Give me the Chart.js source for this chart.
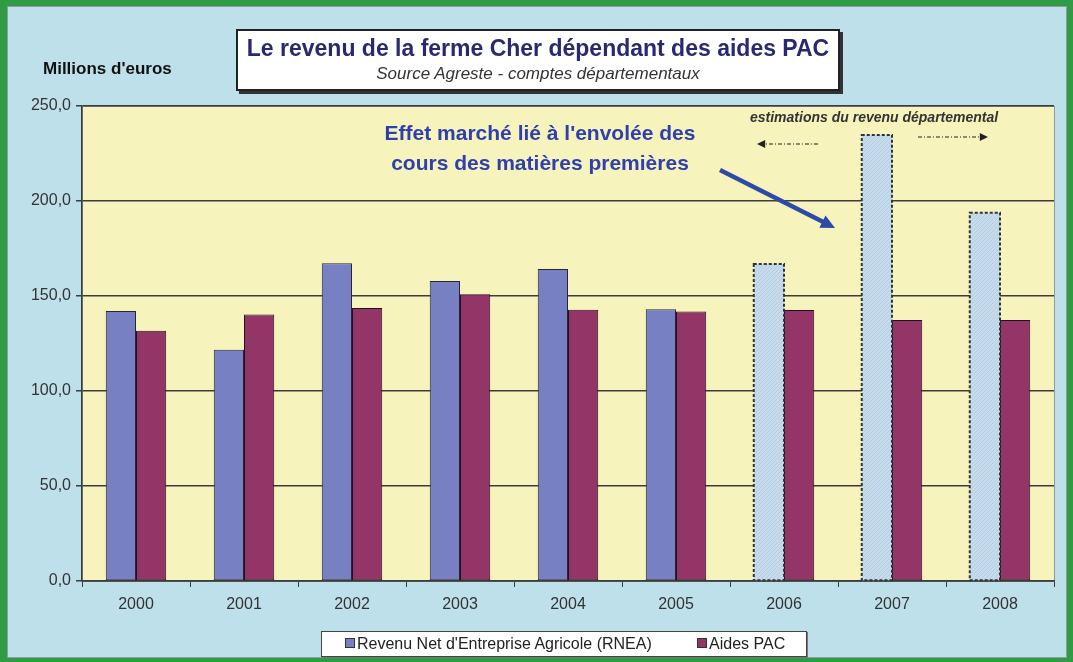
<!DOCTYPE html>
<html lang="fr">
<head>
<meta charset="utf-8">
<title>Le revenu de la ferme Cher</title>
<script src="https://cdn.jsdelivr.net/npm/chart.js@4/dist/chart.umd.min.js"></script>
<style>
  body { margin: 0; font-family: "Liberation Sans", Arial, sans-serif; }
  #frame { position: relative; width: 1073px; height: 662px; background: #2f9b45; overflow: hidden; }
  #inner { position: absolute; left: 7px; top: 6px; right: 6px; bottom: 4px; background: #bee0ea; border: 1px solid #8b9ba2; }
  #chart { position: absolute; left: 0; top: 0; }
  .txt { position: absolute; white-space: nowrap; }
  #titlebox { position: absolute; left: 236px; top: 29px; width: 600px; height: 58px; background: #fff;
              border: 2px solid #222; box-shadow: 3px 3px 0 #333; text-align: center; }
  #titlebox .t1 { font-weight: bold; font-size: 23px; color: #2a2870; margin-top: 4px; }
  #titlebox .t2 { font-style: italic; font-size: 17px; color: #333; margin-top: 2px; }
  #unit { left: 43px; top: 59px; font-weight: bold; font-size: 17px; color: #111; }
  #note { left: 360px; top: 118px; width: 360px; text-align: center; font-weight: bold; font-size: 21px;
          line-height: 30px; color: #2f3fb0; }
  #estim { left: 750px; top: 109px; font-weight: bold; font-style: italic; font-size: 14px; color: #333; }
  #legend { position: absolute; left: 321px; top: 631px; width: 484px; height: 24px; background: #fff;
            border: 1px solid #444; box-shadow: 1px 1px 0 #777; font-size: 16px; color: #222; }
  #legend .item { position: absolute; top: 3px; }
  #legend .sw { display: inline-block; width: 8px; height: 8px; border: 1px solid #333; margin-right: 2px; vertical-align: 1px; }
</style>
</head>
<body>
<div id="frame">
  <div id="inner"></div>
  <canvas id="chart" width="1073" height="662"></canvas>
  <div id="titlebox">
    <div class="t1">Le revenu de la ferme Cher dépendant des aides PAC</div>
    <div class="t2">Source Agreste - comptes départementaux</div>
  </div>
  <div class="txt" id="unit">Millions d'euros</div>
  <div class="txt" id="note">Effet marché lié à l'envolée des<br>cours des matières premières</div>
  <div class="txt" id="estim">estimations du revenu départemental</div>
  <div id="legend"></div>
</div>
<script>
// Data
const years = ['2000', '2001', '2002', '2003', '2004', '2005', '2006', '2007', '2008'];
const rneaValues = [142.1, 121.7, 167.2, 157.9, 164.2, 143.0, 166.8, 234.7, 193.8];
const aidesValues = [131.7, 140.2, 143.7, 150.9, 142.8, 141.9, 142.6, 137.4, 137.4];
const estimatedYears = ['2006', '2007', '2008'];
const yTicks = [0, 50, 100, 150, 200, 250];

const seriesLabels = ["Revenu Net d'Entreprise Agricole (RNEA)", 'Aides PAC'];

// Colours
const colors = {
    rnea: '#7680c2',
    aides: '#933567',
    estimate: '#c6dbec',
    plotBg: '#f6f3bd',
    grid: '#3c3c3c',
    text: '#333'
};

// Hatched fill for estimated bars
function makeHatch() {
    const c = document.createElement('canvas');
    c.width = 4; c.height = 4;
    const g = c.getContext('2d');
    g.fillStyle = colors.estimate;
    g.fillRect(0, 0, 4, 4);
    g.strokeStyle = 'rgba(150,180,210,0.35)';
    g.lineWidth = 1;
    g.beginPath();
    g.moveTo(0, 4); g.lineTo(4, 0);
    g.stroke();
    return g.createPattern(c, 'repeat');
}
const hatch = makeHatch();

const isEstimate = i => estimatedYears.includes(years[i]);

// Plot background
const plotBackground = {
    id: 'plotBackground',
    beforeDraw(chart) {
        const { ctx, chartArea: a } = chart;
        ctx.save();
        ctx.fillStyle = colors.plotBg;
        ctx.fillRect(a.left, a.top, a.right - a.left, a.bottom - a.top);
        ctx.strokeStyle = '#8e9a9e';
        ctx.lineWidth = 1;
        ctx.strokeRect(a.left + 0.5, a.top + 0.5, a.right - a.left, a.bottom - a.top);
        ctx.restore();
    }
};

// Dashed outline on the estimated bars
const dashedEstimates = {
    id: 'dashedEstimates',
    afterDatasetsDraw(chart) {
        const ctx = chart.ctx;
        const meta = chart.getDatasetMeta(0);
        ctx.save();
        ctx.strokeStyle = '#333';
        ctx.lineWidth = 2;
        ctx.setLineDash([3, 2]);
        meta.data.forEach((bar, i) => {
            if (!isEstimate(i)) return;
            const p = bar.getProps(['x', 'y', 'base', 'width'], true);
            ctx.strokeRect(p.x - p.width / 2, p.y, p.width, p.base - p.y);
        });
        ctx.restore();
    }
};

// Arrows of the annotations
function drawArrow(ctx, x1, y1, x2, y2, color, width, head, dash) {
    const ang = Math.atan2(y2 - y1, x2 - x1);
    ctx.save();
    ctx.strokeStyle = color;
    ctx.fillStyle = color;
    ctx.lineWidth = width;
    ctx.setLineDash(dash || []);
    ctx.beginPath();
    ctx.moveTo(x1, y1);
    ctx.lineTo(x2 - Math.cos(ang) * head, y2 - Math.sin(ang) * head);
    ctx.stroke();
    ctx.setLineDash([]);
    ctx.beginPath();
    ctx.moveTo(x2, y2);
    ctx.lineTo(x2 - Math.cos(ang - 0.45) * head * 1.3, y2 - Math.sin(ang - 0.45) * head * 1.3);
    ctx.lineTo(x2 - Math.cos(ang + 0.45) * head * 1.3, y2 - Math.sin(ang + 0.45) * head * 1.3);
    ctx.closePath();
    ctx.fill();
    ctx.restore();
}

const annotationArrows = {
    id: 'annotationArrows',
    afterDraw(chart) {
        const ctx = chart.ctx;
        drawArrow(ctx, 720, 170, 835, 228, '#2e49a8', 4.5, 12);
        drawArrow(ctx, 818, 144, 757, 144, '#222', 1, 7, [4, 2, 1, 2]);
        drawArrow(ctx, 918, 137, 988, 137, '#222', 1, 7, [4, 2, 1, 2]);
    }
};

new Chart(document.getElementById('chart'), {
    type: 'bar',
    data: {
        labels: years,
        datasets: [{
            label: seriesLabels[0],
            data: rneaValues,
            backgroundColor: ctx => isEstimate(ctx.dataIndex) ? hatch : colors.rnea,
            borderColor: '#262638',
            borderWidth: ctx => isEstimate(ctx.dataIndex) ? 0 : 1,
            borderSkipped: false
        }, {
            label: seriesLabels[1],
            data: aidesValues,
            backgroundColor: colors.aides,
            borderColor: '#24101f',
            borderWidth: 1,
            borderSkipped: false
        }]
    },
    options: {
        responsive: false,
        animation: false,
        devicePixelRatio: 1,
        categoryPercentage: 0.56,
        barPercentage: 1.0,
        layout: { padding: { left: 0, top: 106, right: 19, bottom: 41 } },
        plugins: {
            legend: { display: false },
            tooltip: { enabled: false }
        },
        scales: {
            x: {
                afterFit: s => { s.height = 40; },
                grid: { offset: true, drawOnChartArea: false, drawTicks: true, tickLength: 6, color: colors.grid },
                border: { color: colors.grid, width: 1.5 },
                ticks: { color: colors.text, padding: 8, font: { family: 'Liberation Sans, Arial', size: 16 } }
            },
            y: {
                min: yTicks[0],
                max: yTicks[yTicks.length - 1],
                afterFit: s => { s.width = 82; },
                afterBuildTicks: s => { s.ticks = yTicks.map(v => ({ value: v })); },
                grid: { color: colors.grid, lineWidth: 1.5, tickLength: 6 },
                border: { color: colors.grid, width: 1.5 },
                ticks: {
                    color: colors.text,
                    padding: 5,
                    font: { family: 'Liberation Sans, Arial', size: 16 },
                    callback: v => v.toFixed(1).replace('.', ',')
                }
            }
        }
    },
    plugins: [plotBackground, dashedEstimates, annotationArrows]
});

// HTML legend built from the series
const legend = document.getElementById('legend');
const legendItems = [
    { label: seriesLabels[0], color: colors.rnea, left: 23 },
    { label: seriesLabels[1], color: colors.aides, left: 375 }
];
legendItems.forEach(it => {
    const el = document.createElement('span');
    el.className = 'item';
    el.style.left = it.left + 'px';
    el.innerHTML = '<span class="sw" style="background:' + it.color + '"></span>' + it.label;
    legend.appendChild(el);
});
</script>
</body>
</html>
